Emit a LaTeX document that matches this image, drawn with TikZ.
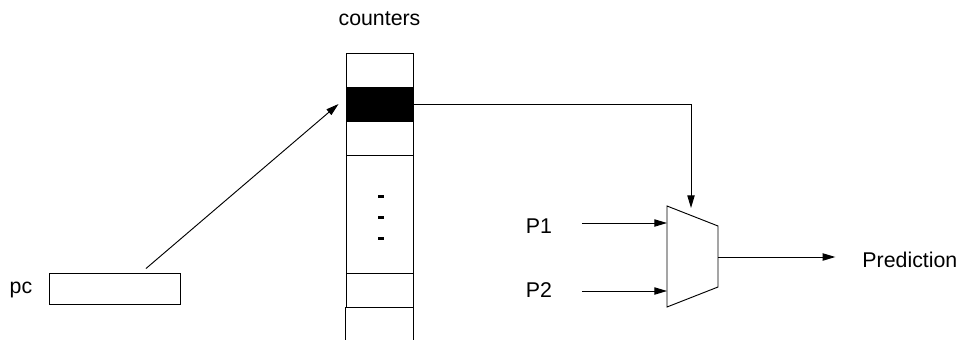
\documentclass[tikz,border=0pt]{standalone}
\usepackage{fontspec}
\setmainfont{Liberation Sans}
\usetikzlibrary{arrows.meta}

\tikzset{
  cell/.style={draw, rectangle, minimum width=50.25pt, minimum height=25.5pt, inner sep=0pt},
  lbl/.style={inner sep=0pt, anchor=base, font=\fontsize{16}{19}\selectfont}
}

\begin{document}
\begin{tikzpicture}[x=0.75pt, y=-0.75pt, line width=0.7pt,
    >={Triangle[length=9.5pt, width=5.5pt]}]
          \useasboundingbox (0,0) rectangle (962,339);

          % Table of counters
          \node[lbl] (title) at (379.5,25) {counters};
          \node[cell] (c1) at (379.5,70) {};
          \node[cell, fill=black] (hit) at (379.5,104) {};
          \node[cell] (c3) at (379.5,138) {};
          \node[cell, minimum height=88.5pt] (c4) at (379.5,214) {};
          \node[cell] (c5) at (379.5,290) {};
          \draw (c5.south west) -- ++(0,40);
          \draw (c5.south east) -- ++(0,40);
          \foreach \y in {196,217,238}
            \fill (378,\y-1.5) rectangle (384,\y+1.5);

          % Program counter
          \node[lbl] (pclabel) at (21,293) {pc};
          \node[cell, minimum width=98.25pt, minimum height=23.25pt] (pc) at (114.5,288.5) {};

          % Multiplexer
          \draw (667,206) -- (718,226) -- (718,287) -- (667,307) -- cycle;
          \coordinate (sel) at (691,208);
          \coordinate (in1) at (667,223);
          \coordinate (in2) at (667,291);
          \coordinate (out) at (718,257);

          \node[lbl] (P1) at (539,233) {P1};
          \node[lbl] (P2) at (539,297) {P2};
          \node[lbl, anchor=base west] (pred) at (862,267) {Prediction};

          % Edges
          \draw [->] ([xshift=23.6pt, yshift=3pt]pc.north) -- ([xshift=-5.25pt]hit.west);
          \draw [->] (hit.east) -| (sel);
          \draw [->, shorten <=22pt] (P1.east |- in1) -- (in1);
          \draw [->, shorten <=22pt] (P2.east |- in2) -- (in2);
          \draw [->, shorten >=20pt] (out) -- (out -| pred.west);
        \end{tikzpicture}
\end{document}
